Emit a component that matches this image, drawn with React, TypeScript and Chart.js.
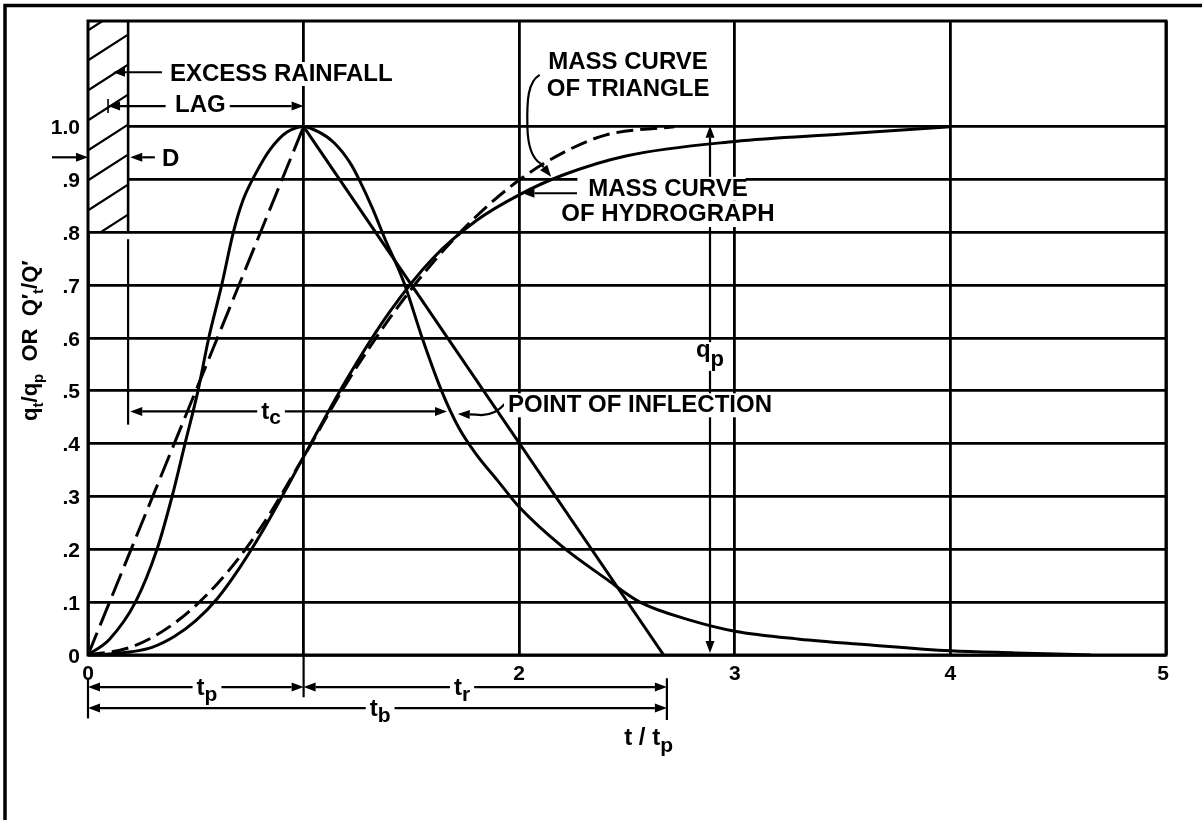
import React, { useEffect, useRef } from "react";
import { Chart, registerables } from "chart.js";

Chart.register(...registerables);

// Dimensionless unit hydrograph: q_t / q_p against t / t_p
const hydrographT = [0, 0.1, 0.22, 0.32, 0.39, 0.45, 0.51, 0.56, 0.62, 0.674, 0.72, 0.78, 0.845, 0.92, 1.0, 1.07, 1.14, 1.215, 1.26, 1.32, 1.38, 1.43, 1.47, 1.55, 1.64, 1.72, 1.8, 1.9, 2.0, 2.2, 2.4, 2.56, 2.8, 3.0, 3.3, 3.6, 4.0, 4.3, 4.65];
const hydrographQ = [0, 0.03, 0.1, 0.2, 0.3, 0.4, 0.5, 0.6, 0.7, 0.8, 0.862, 0.913, 0.957, 0.989, 1.0, 0.99, 0.97, 0.932, 0.898, 0.845, 0.785, 0.74, 0.7, 0.6, 0.5, 0.43, 0.38, 0.33, 0.28, 0.205, 0.145, 0.1, 0.065, 0.045, 0.03, 0.02, 0.008, 0.004, 0];

// Equivalent triangular hydrograph
const triangleRiseT = [0, 1];
const triangleRiseQ = [0, 1];
const triangleFallT = [1, 2.67];
const triangleFallQ = [1, 0];

// Mass curves Q'_t / Q'
const massHydrographT = [0, 0.1, 0.2, 0.3, 0.4, 0.5, 0.6, 0.7, 0.8, 0.9, 1.0, 1.2, 1.4, 1.6, 1.8, 2.0, 2.2, 2.5, 3.0, 3.5, 4.0];
const massHydrographQ = [0, 0.002, 0.006, 0.015, 0.035, 0.065, 0.107, 0.163, 0.228, 0.3, 0.375, 0.522, 0.65, 0.751, 0.822, 0.871, 0.908, 0.945, 0.972, 0.986, 1.0];
const massTriangleT = [0, 0.2, 0.4, 0.6, 0.8, 1.0, 1.2, 1.4, 1.6, 1.8, 2.0, 2.2, 2.4, 2.72];
const massTriangleQ = [0, 0.015, 0.06, 0.135, 0.24, 0.375, 0.515, 0.638, 0.743, 0.83, 0.899, 0.95, 0.984, 1.0];

// Axis labels
const yTickValues = [0, 0.1, 0.2, 0.3, 0.4, 0.5, 0.6, 0.7, 0.8, 0.9, 1.0];
const yTickLabels = ["0", ".1", ".2", ".3", ".4", ".5", ".6", ".7", ".8", ".9", "1.0"];
const xTickValues = [0, 2, 3, 4, 5];
const xTickLabels = ["0", "2", "3", "4", "5"];

const FAMILY = '"Liberation Sans", Arial, Helvetica, sans-serif';
const font = (size: number) => `bold ${size}px ${FAMILY}`;

const pts = (xs: number[], ys: number[]) => xs.map((x, i) => ({ x, y: ys[i] }));

type Part = { s: string; sub?: boolean };

function partsWidth(ctx: CanvasRenderingContext2D, parts: Part[], size: number, subSize: number) {
  let w = 0;
  for (const p of parts) {
    ctx.font = font(p.sub ? subSize : size);
    w += ctx.measureText(p.s).width;
  }
  return w;
}

function drawParts(
  ctx: CanvasRenderingContext2D,
  parts: Part[],
  x: number,
  y: number,
  size: number,
  subSize: number,
  subDy: number,
  align: "left" | "center" | "right",
  bg: boolean,
  topRatio = 0.8
) {
  const total = partsWidth(ctx, parts, size, subSize);
  let x0 = align === "left" ? x : align === "center" ? x - total / 2 : x - total;
  const hasSub = parts.some((p) => p.sub);
  if (bg) {
    ctx.fillStyle = "#fff";
    const top = y - size * topRatio;
    const bottom = y + (hasSub ? subDy + subSize * 0.22 : size * 0.2);
    ctx.fillRect(x0 - 4, top, total + 8, bottom - top);
  }
  ctx.fillStyle = "#000";
  ctx.textAlign = "left";
  ctx.textBaseline = "alphabetic";
  for (const p of parts) {
    ctx.font = font(p.sub ? subSize : size);
    ctx.fillText(p.s, x0, p.sub ? y + subDy : y);
    x0 += ctx.measureText(p.s).width;
  }
}

function arrow(ctx: CanvasRenderingContext2D, x1: number, y1: number, x2: number, y2: number, lw = 2.2) {
  const head = 12;
  const hw = 4.5;
  const a = Math.atan2(y2 - y1, x2 - x1);
  const bx = x2 - head * Math.cos(a);
  const by = y2 - head * Math.sin(a);
  ctx.lineWidth = lw;
  ctx.beginPath();
  ctx.moveTo(x1, y1);
  ctx.lineTo(bx, by);
  ctx.stroke();
  ctx.beginPath();
  ctx.moveTo(x2, y2);
  ctx.lineTo(bx - hw * Math.sin(a), by + hw * Math.cos(a));
  ctx.lineTo(bx + hw * Math.sin(a), by - hw * Math.cos(a));
  ctx.closePath();
  ctx.fill();
}

function seg(ctx: CanvasRenderingContext2D, x1: number, y1: number, x2: number, y2: number, lw = 2.2) {
  ctx.lineWidth = lw;
  ctx.beginPath();
  ctx.moveTo(x1, y1);
  ctx.lineTo(x2, y2);
  ctx.stroke();
}

// Rainfall duration D, in units of t / t_p
const RAIN_D = 0.186;

const annotations = {
  id: "annotations",
  afterDatasetsDraw(chart: any) {
    const ctx: CanvasRenderingContext2D = chart.ctx;
    const xs = chart.scales.x;
    const ys = chart.scales.y;
    const X = (v: number) => xs.getPixelForValue(v);
    const Y = (v: number) => ys.getPixelForValue(v);
    ctx.save();
    ctx.strokeStyle = "#000";
    ctx.fillStyle = "#000";
    ctx.lineCap = "butt";

    // Excess rainfall block with hatching
    const hx0 = X(0);
    const hx1 = X(RAIN_D);
    const hy0 = Y(1.2);
    const hy1 = Y(0.8);
    ctx.fillStyle = "#fff";
    ctx.fillRect(hx0, hy0, hx1 - hx0, hy1 - hy0 - 1.5);
    ctx.save();
    ctx.beginPath();
    ctx.rect(hx0, hy0, hx1 - hx0, hy1 - hy0);
    ctx.clip();
    ctx.strokeStyle = "#000";
    ctx.lineWidth = 2.2;
    ctx.beginPath();
    for (let yy = hy1 + 8; yy > hy0 - 40; yy -= 30) {
      ctx.moveTo(hx0 - 2, yy + 1.3);
      ctx.lineTo(hx1 + 2, yy - 27);
    }
    ctx.stroke();
    ctx.restore();
    ctx.fillStyle = "#000";
    seg(ctx, hx1, hy0, hx1, hy1, 2.6);

    // Plot frame
    ctx.lineWidth = 3;
    ctx.strokeRect(X(0), Y(1.2), X(5) - X(0), Y(0) - Y(1.2));

    // Lag / excess rainfall / D dimension arrows
    arrow(ctx, X(0.343), Y(1.103), X(0.116), Y(1.103));
    seg(ctx, X(RAIN_D / 2), Y(1.039) - 7, X(RAIN_D / 2), Y(1.039) + 7, 1.6);
    arrow(ctx, X(0.36), Y(1.039), X(RAIN_D / 2), Y(1.039));
    arrow(ctx, X(0.65), Y(1.039), X(1.0), Y(1.039));
    arrow(ctx, X(-0.167), Y(0.942), X(0), Y(0.942));
    arrow(ctx, X(0.31), Y(0.942), X(RAIN_D + 0.01), Y(0.942));

    // Time of concentration
    seg(ctx, X(RAIN_D), Y(0.787), X(RAIN_D), Y(0.436), 2.2);
    arrow(ctx, X(0.849), Y(0.461), X(RAIN_D + 0.01), Y(0.461));
    arrow(ctx, X(0.849), Y(0.461), X(1.665), Y(0.461));

    // Peak rate q_p
    arrow(ctx, X(2.885), Y(0.5), X(2.885), Y(1.0) - 1);
    arrow(ctx, X(2.885), Y(0.5), X(2.885), Y(0) - 2);

    // Leader: mass curve of triangle
    {
      ctx.lineWidth = 2.2;
      ctx.beginPath();
      const sx = X(2.095), sy = Y(1.098);
      ctx.moveTo(sx, sy);
      ctx.bezierCurveTo(X(2.04), Y(1.085), X(2.035), Y(1.05), X(2.038), Y(1.0));
      ctx.bezierCurveTo(X(2.04), Y(0.96), X(2.06), Y(0.94), X(2.1), Y(0.93));
      ctx.stroke();
      arrow(ctx, X(2.1), Y(0.93), X(2.148), Y(0.905));
    }
    // Leader: mass curve of hydrograph
    arrow(ctx, X(2.268), Y(0.874), X(2.015), Y(0.874));
    // Leader: point of inflection
    {
      ctx.lineWidth = 2.2;
      ctx.beginPath();
      ctx.moveTo(X(1.935), Y(0.476));
      ctx.quadraticCurveTo(X(1.88), Y(0.45), X(1.8), Y(0.455));
      ctx.stroke();
      arrow(ctx, X(1.8), Y(0.455), X(1.715), Y(0.456));
    }

    // Time-base dimension lines below the axis
    seg(ctx, X(0), Y(-0.044), X(0), Y(-0.12), 2.2);
    seg(ctx, X(1), Y(0), X(1), Y(-0.08), 2.2);
    seg(ctx, X(2.685), Y(-0.044), X(2.685), Y(-0.123), 2.2);
    arrow(ctx, X(0.5), Y(-0.0607), X(0), Y(-0.0607));
    arrow(ctx, X(0.5), Y(-0.0607), X(1), Y(-0.0607));
    arrow(ctx, X(1.8), Y(-0.0607), X(1), Y(-0.0607));
    arrow(ctx, X(1.8), Y(-0.0607), X(2.685), Y(-0.0607));
    arrow(ctx, X(1.35), Y(-0.1005), X(0), Y(-0.1005));
    arrow(ctx, X(1.35), Y(-0.1005), X(2.685), Y(-0.1005));

    // Text labels
    drawParts(ctx, [{ s: "EXCESS RAINFALL" }], X(0.38), Y(1.086), 24, 20, 0, "left", true);
    drawParts(ctx, [{ s: "LAG" }], X(0.404), Y(1.027), 24, 20, 0, "left", true);
    drawParts(ctx, [{ s: "D" }], X(0.343), Y(0.925), 24, 20, 0, "left", false);
    drawParts(ctx, [{ s: "MASS CURVE" }], X(2.505), Y(1.109), 24, 20, 0, "center", false);
    drawParts(ctx, [{ s: "OF TRIANGLE" }], X(2.505), Y(1.058), 24, 20, 0, "center", false);
    ctx.fillStyle = "#fff";
    ctx.fillRect(X(2.27), Y(0.905), X(3.05) - X(2.27), Y(0.86) - Y(0.905));
    ctx.fillRect(X(2.18), Y(0.86), X(3.18) - X(2.18), Y(0.81) - Y(0.86));
    drawParts(ctx, [{ s: "MASS CURVE" }], X(2.69), Y(0.868), 24, 20, 0, "center", false);
    drawParts(ctx, [{ s: "OF HYDROGRAPH" }], X(2.69), Y(0.821), 24, 20, 0, "center", false);
    drawParts(ctx, [{ s: "POINT OF INFLECTION" }], X(1.948), Y(0.459), 24, 20, 0, "left", true);
    drawParts(ctx, [{ s: "q" }, { s: "p", sub: true }], X(2.885), Y(0.564), 24, 22, 9, "center", true, 0.62);
    drawParts(ctx, [{ s: "t" }, { s: "c", sub: true }], X(0.849), Y(0.447), 24, 21, 5, "center", true, 0.72);
    drawParts(ctx, [{ s: "t" }, { s: "p", sub: true }], X(0.552), Y(-0.0758), 24, 21, 6, "center", true, 0.72);
    drawParts(ctx, [{ s: "t" }, { s: "r", sub: true }], X(1.735), Y(-0.0758), 24, 21, 6, "center", true, 0.72);
    drawParts(ctx, [{ s: "t" }, { s: "b", sub: true }], X(1.355), Y(-0.1156), 24, 21, 6, "center", true, 0.72);
    drawParts(ctx, [{ s: "t / t" }, { s: "p", sub: true }], X(2.6), Y(-0.17), 24, 21, 7, "center", false);

    // Tick labels
    ctx.fillStyle = "#000";
    ctx.font = font(21);
    ctx.textBaseline = "alphabetic";
    ctx.textAlign = "right";
    yTickValues.forEach((v, i) => ctx.fillText(yTickLabels[i], X(0) - 8, Y(v) + 7.5));
    ctx.textAlign = "center";
    xTickValues.forEach((v, i) => ctx.fillText(xTickLabels[i], X(v) - (v === 5 ? 3 : 0), Y(0) + 25));

    // Vertical axis title
    ctx.save();
    ctx.translate(X(0) - 51, Y(0.595));
    ctx.rotate(-Math.PI / 2);
    drawParts(
      ctx,
      [
        { s: "q" },
        { s: "t", sub: true },
        { s: "/q" },
        { s: "p", sub: true },
        { s: "  OR  " },
        { s: "Q\u2032" },
        { s: "t", sub: true },
        { s: "/Q\u2032" },
      ],
      0,
      0,
      22,
      15,
      6,
      "center",
      false
    );
    ctx.restore();

    ctx.restore();
  },
  afterDraw(chart: any) {
    // Sheet border along the top and left edges
    const ctx: CanvasRenderingContext2D = chart.ctx;
    ctx.save();
    ctx.strokeStyle = "#000";
    ctx.lineWidth = 3.5;
    ctx.beginPath();
    ctx.moveTo(5, 820);
    ctx.lineTo(5, 5.5);
    ctx.lineTo(1202, 5.5);
    ctx.stroke();
    ctx.restore();
  },
};

export default function App() {
  const ref = useRef<HTMLCanvasElement | null>(null);

  useEffect(() => {
    if (!ref.current) return;
    const black = "#000";
    const chart = new Chart(ref.current, {
      type: "line",
      data: {
        datasets: [
          {
            data: pts(hydrographT, hydrographQ),
            borderColor: black,
            borderWidth: 3,
            pointRadius: 0,
            cubicInterpolationMode: "monotone",
            fill: false,
          },
          {
            data: pts(triangleRiseT, triangleRiseQ),
            borderColor: black,
            borderWidth: 3,
            borderDash: [24, 8],
            pointRadius: 0,
            fill: false,
          },
          {
            data: pts(triangleFallT, triangleFallQ),
            borderColor: black,
            borderWidth: 3,
            pointRadius: 0,
            fill: false,
          },
          {
            data: pts(massHydrographT, massHydrographQ),
            borderColor: black,
            borderWidth: 3,
            pointRadius: 0,
            cubicInterpolationMode: "monotone",
            fill: false,
          },
          {
            data: pts(massTriangleT, massTriangleQ),
            borderColor: black,
            borderWidth: 3,
            borderDash: [17, 7],
            pointRadius: 0,
            cubicInterpolationMode: "monotone",
            fill: false,
          },
        ],
      },
      options: {
        animation: false,
        responsive: false,
        devicePixelRatio: 1,
        events: [],
        layout: { padding: { left: 88, top: 21, right: 36, bottom: 165 } },
        plugins: { legend: { display: false }, tooltip: { enabled: false }, title: { display: false } },
        scales: {
          x: {
            type: "linear",
            min: 0,
            max: 5,
            ticks: { stepSize: 1, display: false },
            grid: { color: black, lineWidth: 2.8, drawTicks: false },
            border: { display: false },
            afterFit: (s: any) => {
              s.height = 0;
            },
          },
          y: {
            type: "linear",
            min: 0,
            max: 1.2,
            ticks: { stepSize: 0.1, display: false },
            grid: {
              color: (c: any) => (c.tick && c.tick.value > 1.05 ? "rgba(0,0,0,0)" : black),
              lineWidth: 2.8,
              drawTicks: false,
            },
            border: { display: false },
            afterFit: (s: any) => {
              s.width = 0;
            },
          },
        },
      },
      plugins: [annotations],
    } as any);
    return () => chart.destroy();
  }, []);

  return (
    <div style={{ position: "absolute", left: 0, top: 0, width: 1202, height: 820, background: "#fff" }}>
      <canvas ref={ref} width={1202} height={820} style={{ display: "block" }} />
    </div>
  );
}
